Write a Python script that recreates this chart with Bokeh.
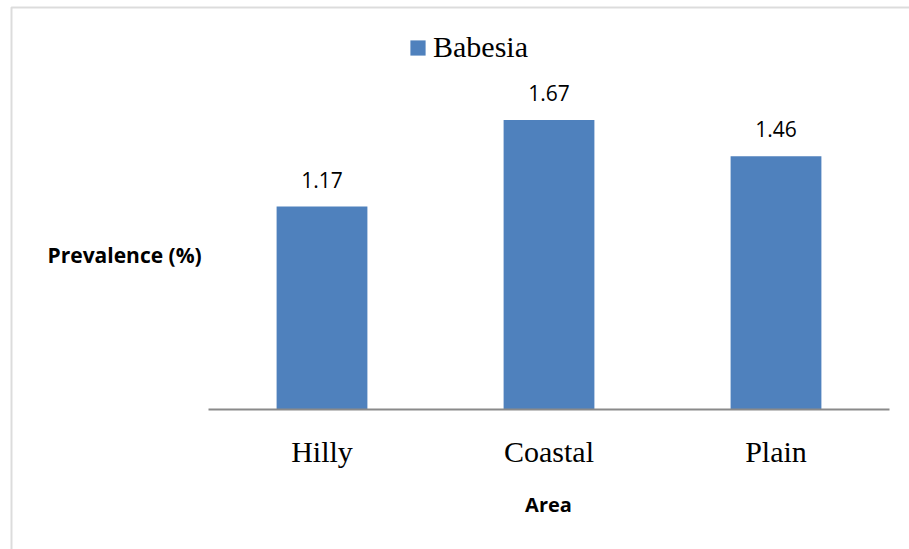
from bokeh.plotting import figure
from bokeh.models import (ColumnDataSource, Range1d, LabelSet, Label,
                          Legend, LegendItem, BoxAnnotation)
from bokeh.core.properties import value
from bokeh.embed import file_html
from bokeh.resources import INLINE

# Prevalence of Babesia by area (%)
areas = ["Hilly", "Coastal", "Plain"]
prevalence = [1.17, 1.67, 1.46]
value_text = ["1.17", "1.67", "1.46"]
series_name = "Babesia"
x_title = "Area"
y_title = "Prevalence (%)"

BAR_COLOR = "#4F81BD"
GRAY = "#8A8A8A"
W, H = 909, 549

# category slots sit at 0.5, 1.5, 2.5 on a numeric axis
xpos = [i + 0.5 for i in range(len(areas))]
source = ColumnDataSource(dict(x=xpos, area=areas, value=prevalence, text=value_text))

# the plotting frame covers the whole canvas; ranges place the bar area
px_per_cat = 227.0
px_per_unit = 173.4
left_px, base_px = 208, 409
x_range = Range1d(-left_px / px_per_cat, (W - left_px) / px_per_cat)
y_range = Range1d(-(H - base_px) / px_per_unit, base_px / px_per_unit)

p = figure(width=W, height=H, x_range=x_range, y_range=y_range,
           output_backend="svg", toolbar_location=None,
           min_border=0, min_border_left=0, min_border_right=0,
           min_border_top=0, min_border_bottom=0)
p.outline_line_color = None
p.background_fill_color = "white"
p.border_fill_color = "white"
p.xgrid.grid_line_color = None
p.ygrid.grid_line_color = None
p.xaxis.visible = False
p.yaxis.visible = False

bars = p.vbar(x="x", top="value", width=0.4, source=source,
              fill_color=BAR_COLOR, line_color=None)

# category baseline
p.segment(x0=[0], x1=[len(areas)], y0=[0], y1=[0], line_color=GRAY, line_width=2)

# category names under the baseline
p.add_layout(LabelSet(x="x", y=0, text="area", source=source,
                      text_align="center", text_baseline="alphabetic", y_offset=-52,
                      text_font=value("Liberation Serif"), text_font_size="30px",
                      text_color="black"))

# value labels above each bar
p.add_layout(LabelSet(x="x", y="value", text="text", source=source,
                      text_align="center", text_baseline="alphabetic", y_offset=19,
                      text_font=value("Open Sans"), text_font_size="21px",
                      text_color="black"))

# axis titles
p.add_layout(Label(x=548, y=45, x_units="screen", y_units="screen",
                   text=x_title, text_align="center", text_baseline="alphabetic",
                   text_font="Open Sans", text_font_style="bold", text_font_size="20px",
                   text_color="black"))
p.add_layout(Label(x=47, y=295, x_units="screen", y_units="screen",
                   text=y_title, text_align="left", text_baseline="alphabetic",
                   text_font="Open Sans", text_font_style="bold", text_font_size="21px",
                   text_color="black"))

# legend (area glyphs are drawn inset by 10% of the glyph box)
legend = Legend(items=[LegendItem(label=series_name, renderers=[bars])],
                location=(408, 485), orientation="horizontal",
                glyph_width=19, glyph_height=19, label_standoff=6,
                padding=0, margin=0, border_line_color=None,
                background_fill_alpha=0,
                label_text_font="Liberation Serif", label_text_font_size="30px",
                label_text_color="black")
p.add_layout(legend, "center")

# chart-area frame (left and top edges)
p.add_layout(BoxAnnotation(left=11, right=W + 50, top=H - 7, bottom=-50,
                           left_units="screen", right_units="screen",
                           top_units="screen", bottom_units="screen",
                           fill_alpha=0, line_color=GRAY, line_width=2))

open("out.html", "w").write(file_html(p, INLINE))
